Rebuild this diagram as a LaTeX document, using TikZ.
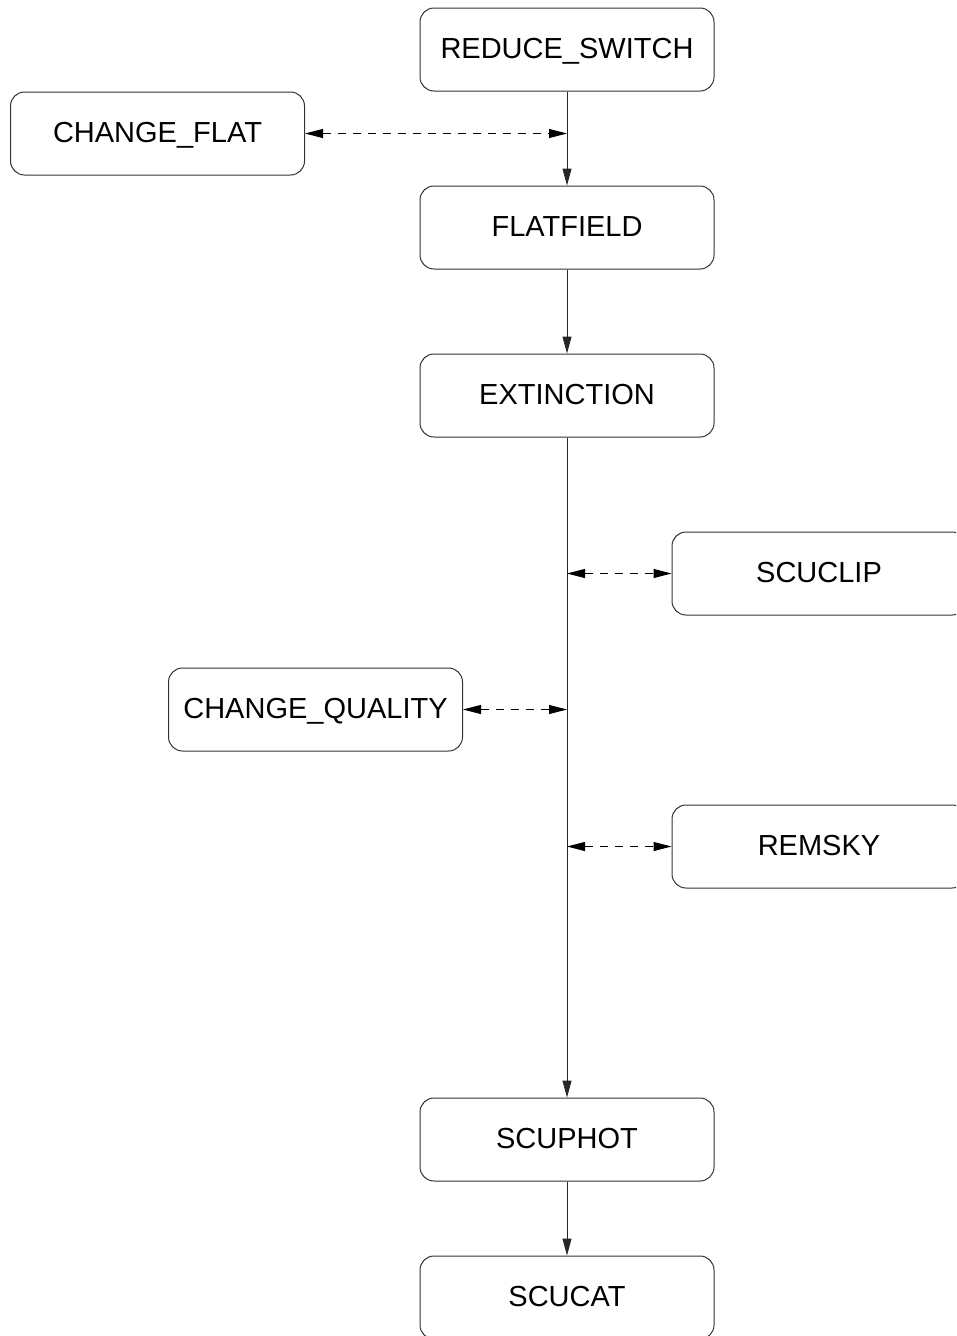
\documentclass[tikz,border=0pt]{standalone}
\usepackage{fontspec}
\setmainfont{Liberation Sans}
\usetikzlibrary{arrows.meta}
\begin{document}
\begin{tikzpicture}[x=1pt,y=-1pt,
  box/.style={draw=black!80, line width=1pt, rounded corners=14pt, minimum width=294pt, minimum height=83pt, inner sep=0pt, font=\fontsize{29}{35}\selectfont, text height=21pt, text depth=4pt, anchor=center},
  flow/.style={draw=black!85, line width=1pt, -{Triangle[length=17pt,width=9pt]}},
  link/.style={draw=black, line width=1pt, dash pattern=on 8pt off 7pt, {Triangle[length=18pt,width=9pt]}-{Triangle[length=18pt,width=9pt]}}
]
\useasboundingbox (0,0) rectangle (956,1336);
\clip (0,0) rectangle (956,1336);
\node[box] (rs) at (567,49.5) {REDUCE\_SWITCH};
\node[box] (cf) at (157.5,133.5) {CHANGE\_FLAT};
\node[box] (ff) at (567,227.5) {FLATFIELD};
\node[box] (ex) at (567,395.5) {EXTINCTION};
\node[box] (sc) at (819,573.5) {SCUCLIP};
\node[box] (cq) at (315.5,709.5) {CHANGE\_QUALITY};
\node[box] (rm) at (819,846.5) {REMSKY};
\node[box] (sp) at (567,1139.5) {SCUPHOT};
\node[box] (ct) at (567,1297.5) {SCUCAT};
\coordinate (j1) at (567,133.5);
\coordinate (j2) at (567,573.5);
\coordinate (j3) at (567,709.5);
\coordinate (j4) at (567,846.5);
\draw[flow] (rs) -- (ff);
\draw[flow] (ff) -- (ex);
\draw[flow] (ex) -- (sp);
\draw[flow] (sp) -- (ct);
\draw[link] (cf) -- (j1);
\draw[link] (j2) -- (sc);
\draw[link] (cq) -- (j3);
\draw[link] (j4) -- (rm);
\end{tikzpicture}
\end{document}
